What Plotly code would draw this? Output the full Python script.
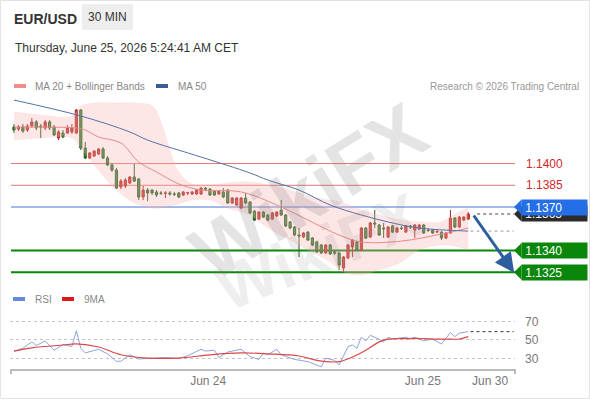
import plotly.graph_objects as go

# ---------------- data ----------------
candle_idx = list(range(103))
opens = [1.14252, 1.14238, 1.14252, 1.14231, 1.14259, 1.14287, 1.14259, 1.14245, 1.14287, 1.14252,
         1.14176, 1.14211, 1.14211, 1.14218, 1.14211, 1.14369, 1.14107, 1.14038, 1.14052, 1.14066,
         1.14100, 1.14038, 1.13990, 1.13955, 1.13838, 1.13845, 1.13866, 1.13907, 1.13893, 1.13769,
         1.13817, 1.13817, 1.13804, 1.13797, 1.13795, 1.13797, 1.13790, 1.13797, 1.13783, 1.13797,
         1.13790, 1.13790, 1.13790, 1.13831, 1.13824, 1.13810, 1.13790, 1.13804, 1.13817, 1.13728,
         1.13714, 1.13693, 1.13762, 1.13735, 1.13672, 1.13617, 1.13665, 1.13645, 1.13617, 1.13638,
         1.13679, 1.13645, 1.13597, 1.13562, 1.13507, 1.13493, 1.13527, 1.13486, 1.13459, 1.13438,
         1.13383, 1.13438, 1.13390, 1.13383, 1.13279, 1.13348, 1.13424, 1.13459, 1.13403, 1.13555,
         1.13493, 1.13590, 1.13576, 1.13555, 1.13493, 1.13569, 1.13527, 1.13555, 1.13527, 1.13569,
         1.13541, 1.13548, 1.13576, 1.13541, 1.13541, 1.13527, 1.13527, 1.13486, 1.13521, 1.13624,
         1.13562, 1.13610, 1.13617]
highs = [1.14273, 1.14266, 1.14273, 1.14273, 1.14314, 1.14300, 1.14273, 1.14300, 1.14300, 1.14266,
         1.14231, 1.14231, 1.14266, 1.14273, 1.14376, 1.14376, 1.14149, 1.14080, 1.14093, 1.14107,
         1.14114, 1.14052, 1.14004, 1.13969, 1.13893, 1.13900, 1.13914, 1.13997, 1.13900, 1.13845,
         1.13831, 1.13824, 1.13817, 1.13810, 1.13810, 1.13810, 1.13804, 1.13804, 1.13810, 1.13804,
         1.13810, 1.13824, 1.13838, 1.13838, 1.13831, 1.13817, 1.13817, 1.13831, 1.13824, 1.13769,
         1.13769, 1.13769, 1.13797, 1.13741, 1.13679, 1.13672, 1.13672, 1.13652, 1.13665, 1.13672,
         1.13748, 1.13652, 1.13603, 1.13569, 1.13555, 1.13527, 1.13534, 1.13493, 1.13465, 1.13445,
         1.13445, 1.13445, 1.13403, 1.13390, 1.13362, 1.13445, 1.13479, 1.13465, 1.13562, 1.13562,
         1.13597, 1.13679, 1.13583, 1.13590, 1.13569, 1.13576, 1.13562, 1.13569, 1.13576, 1.13576,
         1.13583, 1.13583, 1.13583, 1.13555, 1.13548, 1.13548, 1.13534, 1.13527, 1.13679, 1.13631,
         1.13638, 1.13638, 1.13665]
lows = [1.14211, 1.14224, 1.14211, 1.14218, 1.14245, 1.14231, 1.14176, 1.14231, 1.14231, 1.14190,
        1.14162, 1.14176, 1.14204, 1.14204, 1.14204, 1.14093, 1.14031, 1.14031, 1.14045, 1.14059,
        1.14031, 1.13983, 1.13942, 1.13824, 1.13824, 1.13831, 1.13859, 1.13873, 1.13748, 1.13748,
        1.13741, 1.13783, 1.13769, 1.13783, 1.13762, 1.13779, 1.13776, 1.13762, 1.13776, 1.13783,
        1.13783, 1.13783, 1.13783, 1.13810, 1.13776, 1.13776, 1.13783, 1.13762, 1.13721, 1.13721,
        1.13707, 1.13686, 1.13721, 1.13652, 1.13603, 1.13610, 1.13624, 1.13603, 1.13610, 1.13631,
        1.13638, 1.13562, 1.13548, 1.13500, 1.13355, 1.13486, 1.13465, 1.13431, 1.13383, 1.13376,
        1.13376, 1.13369, 1.13369, 1.13265, 1.13251, 1.13341, 1.13355, 1.13396, 1.13396, 1.13479,
        1.13486, 1.13555, 1.13500, 1.13486, 1.13486, 1.13521, 1.13521, 1.13541, 1.13521, 1.13548,
        1.13486, 1.13541, 1.13514, 1.13527, 1.13514, 1.13521, 1.13472, 1.13479, 1.13514, 1.13555,
        1.13555, 1.13603, 1.13610]
closes = [1.14231, 1.14252, 1.14224, 1.14259, 1.14287, 1.14245, 1.14252, 1.14287, 1.14245, 1.14197,
          1.14218, 1.14183, 1.14245, 1.14245, 1.14369, 1.14107, 1.14038, 1.14073, 1.14086, 1.14100,
          1.14038, 1.13990, 1.13955, 1.13831, 1.13879, 1.13886, 1.13907, 1.13879, 1.13769, 1.13817,
          1.13797, 1.13797, 1.13783, 1.13795, 1.13797, 1.13790, 1.13788, 1.13769, 1.13804, 1.13799,
          1.13804, 1.13817, 1.13831, 1.13824, 1.13783, 1.13783, 1.13810, 1.13769, 1.13728, 1.13762,
          1.13762, 1.13762, 1.13728, 1.13659, 1.13610, 1.13665, 1.13631, 1.13610, 1.13659, 1.13665,
          1.13645, 1.13569, 1.13555, 1.13507, 1.13500, 1.13521, 1.13472, 1.13438, 1.13390, 1.13383,
          1.13438, 1.13376, 1.13383, 1.13300, 1.13355, 1.13438, 1.13472, 1.13403, 1.13555, 1.13486,
          1.13590, 1.13583, 1.13507, 1.13550, 1.13562, 1.13527, 1.13555, 1.13552, 1.13569, 1.13562,
          1.13576, 1.13576, 1.13521, 1.13538, 1.13521, 1.13531, 1.13486, 1.13521, 1.13624, 1.13562,
          1.13631, 1.13631, 1.13652]

ma50_idx = [0, 15, 26, 30, 42, 53, 57, 64, 71, 78, 84, 91, 102]
ma50_val = [1.14438, 1.14328, 1.14218, 1.14162, 1.14045, 1.13935, 1.13886, 1.13817, 1.13714,
            1.13645, 1.13597, 1.13555, 1.13534]

ma20_idx = [0, 14, 16, 19, 24, 28, 32, 37, 42, 51, 60, 66, 73, 78, 87, 96, 102]
ma20_val = [1.14252, 1.14245, 1.14231, 1.14183, 1.14142, 1.14011, 1.13942, 1.13859, 1.13817,
            1.13804, 1.13700, 1.13610, 1.13507, 1.13459, 1.13465, 1.13514, 1.13555]

bb_idx = [0, 6, 13, 15, 18, 23, 27, 31, 33, 35, 37, 40, 44, 48, 53, 57, 62, 66, 71, 74, 78,
          82, 87, 91, 96, 99, 102]
bb_upper = [1.14355, 1.14335, 1.14328, 1.14397, 1.14418, 1.14418, 1.14418, 1.14397, 1.14287,
            1.14093, 1.13942, 1.13859, 1.13852, 1.13866, 1.13873, 1.13852, 1.13817, 1.13776,
            1.13748, 1.13728, 1.13679, 1.13645, 1.13610, 1.13597, 1.13597, 1.13652, 1.13693]
bb_lower = [1.14162, 1.14176, 1.14176, 1.14107, 1.13990, 1.13817, 1.13728, 1.13693, 1.13693,
            1.13707, 1.13721, 1.13748, 1.13748, 1.13693, 1.13645, 1.13555, 1.13472, 1.13403,
            1.13321, 1.13251, 1.13231, 1.13265, 1.13321, 1.13403, 1.13438, 1.13431, 1.13403]

rsi_idx = [0, 2, 4, 5, 7, 9, 11, 13, 14, 15, 16, 19, 21, 23, 24, 26, 28, 34, 37, 39,
           42, 43, 45, 46, 48, 51, 53, 55, 56, 57, 59, 60, 63, 64, 66, 69, 70, 72, 73, 75,
           76, 77, 78, 79, 80, 81, 83, 84, 85, 88, 89, 90, 92, 94, 96, 98, 99, 100, 102]
rsi_val = [38, 41, 48, 44, 49, 39, 45, 43, 60, 41, 36, 40, 35, 27, 27, 34, 29.5, 31, 30, 33,
           40, 38, 39, 31, 37, 40, 32, 29, 36, 34, 40, 34, 29, 28, 26.6, 21, 30.5, 28, 23, 42.8,
           44.6, 41, 53, 49, 55, 53, 48, 53, 51, 53, 51, 53, 49, 51, 45.6, 58, 53.6, 57.5, 59]
ma9_idx = [0, 4, 11, 14, 19, 24, 30, 37, 44, 51, 57, 64, 68, 70, 73, 76, 79, 82, 84, 87,
           90, 94, 97, 100, 102]
ma9_val = [38, 41.5, 44.6, 45.7, 42.4, 34, 30.5, 30.5, 34, 36, 35, 32.7, 28, 26.6, 26.6, 31.6,
           39, 48, 51, 51.4, 51.8, 51, 51, 51, 53.6]

level_prices = [1.1400, 1.1385, 1.1370, 1.1340, 1.1325]
level_labels = ["1.1400", "1.1385", "1.1370", "1.1340", "1.1325"]
level_kinds = ["res", "res", "pivot", "sup", "sup"]
target_price = 1.1325
tick_pos = [43.6, 91.8, 106.9]
tick_text = ["Jun 24", "Jun 25", "Jun 30"]
rsi_levels = [30, 50, 70]

# ---------------- layout helpers ----------------
W, H = 590, 400
ML, MR, MT, MB = 10, 75, 95, 31
PW, PH = W - ML - MR, H - MT - MB


def PX(px):
    return (px - ML) / PW


def PY(py):
    return (H - MB - py) / PH


Y_TOP, Y_BOT = 1.14473, 1.13162
PPX = (Y_TOP - Y_BOT) / 190.0  # price per pixel
XR = [-0.9, 112.5]
FONT = "Liberation Sans, Arial, sans-serif"

RED_LVL = "#cf2a2a"
BLUE = "#246fe6"
GREEN = "#0a870a"

fig = go.Figure()

# Bollinger band fill
fig.add_trace(go.Scatter(x=bb_idx, y=bb_upper, mode="lines",
                         line=dict(color="rgba(245,170,170,0.25)", width=0.5, shape="spline"),
                         xaxis="x", yaxis="y", hoverinfo="skip"))
fig.add_trace(go.Scatter(x=bb_idx, y=bb_lower, mode="lines",
                         line=dict(color="rgba(245,170,170,0.25)", width=0.5, shape="spline"),
                         fill="tonexty", fillcolor="rgba(250,180,180,0.33)",
                         xaxis="x", yaxis="y", hoverinfo="skip"))
fig.add_trace(go.Scatter(x=ma20_idx, y=ma20_val, mode="lines",
                         line=dict(color="#e88a8a", width=1, shape="spline"),
                         xaxis="x", yaxis="y", hoverinfo="skip"))
fig.add_trace(go.Scatter(x=ma50_idx, y=ma50_val, mode="lines",
                         line=dict(color="#5572a8", width=1, shape="spline"),
                         xaxis="x", yaxis="y", hoverinfo="skip"))

fig.add_trace(go.Candlestick(
    x=candle_idx, open=opens, high=highs, low=lows, close=closes,
    increasing=dict(line=dict(color="#a82620", width=1), fillcolor="#d6352d"),
    decreasing=dict(line=dict(color="#1f5e1c", width=1), fillcolor="#3d8b35"),
    whiskerwidth=0, xaxis="x", yaxis="y"))

# RSI pane
fig.add_trace(go.Scatter(x=rsi_idx, y=rsi_val, mode="lines",
                         line=dict(color="#8fa3dc", width=1),
                         xaxis="x2", yaxis="y2", hoverinfo="skip"))
fig.add_trace(go.Scatter(x=ma9_idx, y=ma9_val, mode="lines",
                         line=dict(color="#d84848", width=1.2, shape="spline"),
                         xaxis="x2", yaxis="y2", hoverinfo="skip"))

shapes = []
annotations = []

# card border
shapes.append(dict(type="rect", xref="paper", yref="paper",
                   x0=PX(0.5), x1=PX(589.5), y0=PY(398.5), y1=PY(0.5),
                   line=dict(color="#e3e3e3", width=1), fillcolor="rgba(0,0,0,0)", layer="below"))

# watermark
annotations.append(dict(xref="paper", yref="paper", x=PX(308), y=PY(192), text="<b>WikiFX</b>",
                        showarrow=False, textangle=-32,
                        font=dict(family=FONT, size=78, color="rgba(120,120,120,0.2)")))
annotations.append(dict(xref="paper", yref="paper", x=PX(318), y=PY(252), text="<b>WikiFX</b>",
                        showarrow=False, textangle=-22,
                        font=dict(family=FONT, size=64, color="rgba(120,120,120,0.13)")))

# level lines
for p, k in zip(level_prices, level_kinds):
    if k == "res":
        col, w = "#e2766f", 1
    elif k == "pivot":
        col, w = "#4677d6", 1
    else:
        col, w = GREEN, 2
    shapes.append(dict(type="line", xref="paper", yref="y", x0=PX(11), x1=PX(515), y0=p, y1=p,
                       line=dict(color=col, width=w), layer="below"))

# dotted extensions
last_i = candle_idx[-1]
shapes.append(dict(type="line", xref="x", yref="y", x0=last_i + 2, x1=XR[1] - 0.3,
                   y0=closes[-1], y1=closes[-1], line=dict(color="#444", width=1, dash="dot")))
shapes.append(dict(type="line", xref="x", yref="y", x0=last_i + 0.5, x1=XR[1] - 0.3,
                   y0=ma50_val[-1], y1=ma50_val[-1], line=dict(color="#999", width=1, dash="dot")))
shapes.append(dict(type="line", xref="x2", yref="y2", x0=last_i + 0.5, x1=XR[1] - 0.3,
                   y0=rsi_val[-1], y1=rsi_val[-1], line=dict(color="#333", width=1, dash="dot")))

# x axis end ticks
for xp in (11, 515):
    shapes.append(dict(type="line", xref="paper", yref="paper", x0=PX(xp), x1=PX(xp),
                       y0=PY(369), y1=PY(374), line=dict(color="#bbbbbb", width=2)))

# price labels on the right
HALF = 7.5 * PPX


def flag_label(price, text, bg):
    shapes.append(dict(type="path", xref="paper", yref="y",
                       path=f"M {PX(514)},{price} L {PX(521.5)},{price + HALF} "
                            f"L {PX(521.5)},{price - HALF} Z",
                       fillcolor=bg, line=dict(width=0), layer="above"))
    annotations.append(dict(xref="paper", yref="y", x=PX(521), y=price, xanchor="left",
                            yanchor="middle", text="&nbsp;" + text, showarrow=False, bgcolor=bg,
                            width=65, height=15, align="left", borderpad=0,
                            font=dict(family=FONT, size=12, color="white")))


# current price box (behind the pivot label)
flag_label(closes[-1], f"{closes[-1]:.4f}", "#2b2b2b")
for p, t, k in zip(level_prices, level_labels, level_kinds):
    if k == "res":
        annotations.append(dict(xref="paper", yref="y", x=PX(524), y=p, xanchor="left",
                                yanchor="middle", text=t, showarrow=False,
                                font=dict(family=FONT, size=12, color=RED_LVL)))
    elif k == "pivot":
        flag_label(p, t, BLUE)
    else:
        flag_label(p, t, GREEN)

# projection arrow
annotations.append(dict(xref="x", yref="y", axref="x", ayref="y",
                        x=112.3, y=target_price - 0.5 * PPX, ax=last_i + 1.0, ay=closes[-1],
                        text="", showarrow=True, arrowhead=2, arrowsize=1.3, arrowwidth=3,
                        arrowcolor="#2f5e9f"))

# header
annotations.append(dict(xref="paper", yref="paper", x=PX(12), y=PY(19), xanchor="left",
                        yanchor="middle", text="<b>EUR/USD</b>", showarrow=False,
                        font=dict(family=FONT, size=14, color="#333")))
shapes.append(dict(type="rect", xref="paper", yref="paper", x0=PX(82), x1=PX(133),
                   y0=PY(30), y1=PY(4), fillcolor="#eeeeee", line=dict(width=0)))
annotations.append(dict(xref="paper", yref="paper", x=PX(107.5), y=PY(17), xanchor="center",
                        yanchor="middle", text="30 MIN", showarrow=False,
                        font=dict(family=FONT, size=12, color="#333")))
annotations.append(dict(xref="paper", yref="paper", x=PX(13), y=PY(48), xanchor="left",
                        yanchor="middle", text="Thursday, June 25, 2026 5:24:41 AM CET",
                        showarrow=False, font=dict(family=FONT, size=12, color="#333")))


# legends
def legend_item(x_sw, y, color, text, x_txt):
    shapes.append(dict(type="rect", xref="paper", yref="paper", x0=PX(x_sw), x1=PX(x_sw + 12),
                       y0=PY(y + 2), y1=PY(y - 2), fillcolor=color, line=dict(width=0)))
    annotations.append(dict(xref="paper", yref="paper", x=PX(x_txt), y=PY(y), xanchor="left",
                            yanchor="middle", text=text, showarrow=False,
                            font=dict(family=FONT, size=10, color="#888")))


legend_item(14, 86, "#f08c8c", "MA 20 + Bollinger Bands", 33)
legend_item(156, 86, "#3b5c94", "MA 50", 176)
legend_item(13, 299, "#6688dd", "RSI", 33)
legend_item(62, 299, "#e01818", "9MA", 82)
annotations.append(dict(xref="paper", yref="paper", x=PX(581), y=PY(86), xanchor="right",
                        yanchor="middle", text="Research © 2026 Trading Central",
                        showarrow=False, font=dict(family=FONT, size=10, color="#999")))

fig.update_layout(
    width=W, height=H, margin=dict(l=ML, r=MR, t=MT, b=MB),
    paper_bgcolor="white", plot_bgcolor="white", showlegend=False,
    font=dict(family=FONT),
    xaxis=dict(domain=[0, 1], range=XR, visible=False, anchor="y",
               rangeslider=dict(visible=False)),
    yaxis=dict(domain=[PY(285), 1], range=[Y_BOT, Y_TOP], visible=False, anchor="x"),
    xaxis2=dict(domain=[0, 1], range=XR, anchor="y2", tickvals=tick_pos, ticktext=tick_text,
                showline=True, linecolor="#bbbbbb", linewidth=2, ticks="", showgrid=False,
                zeroline=False, tickfont=dict(family=FONT, size=12, color="#777")),
    yaxis2=dict(domain=[0, PY(310)], range=[18.65, 82.4], anchor="x2", side="right",
                tickvals=rsi_levels, showgrid=True, gridcolor="#c4c4c4", griddash="dot",
                zeroline=False, showline=False, ticks="", ticklabelstandoff=9,
                tickfont=dict(family=FONT, size=12, color="#777")),
    shapes=shapes, annotations=annotations,
)

fig.write_html("out.html")
